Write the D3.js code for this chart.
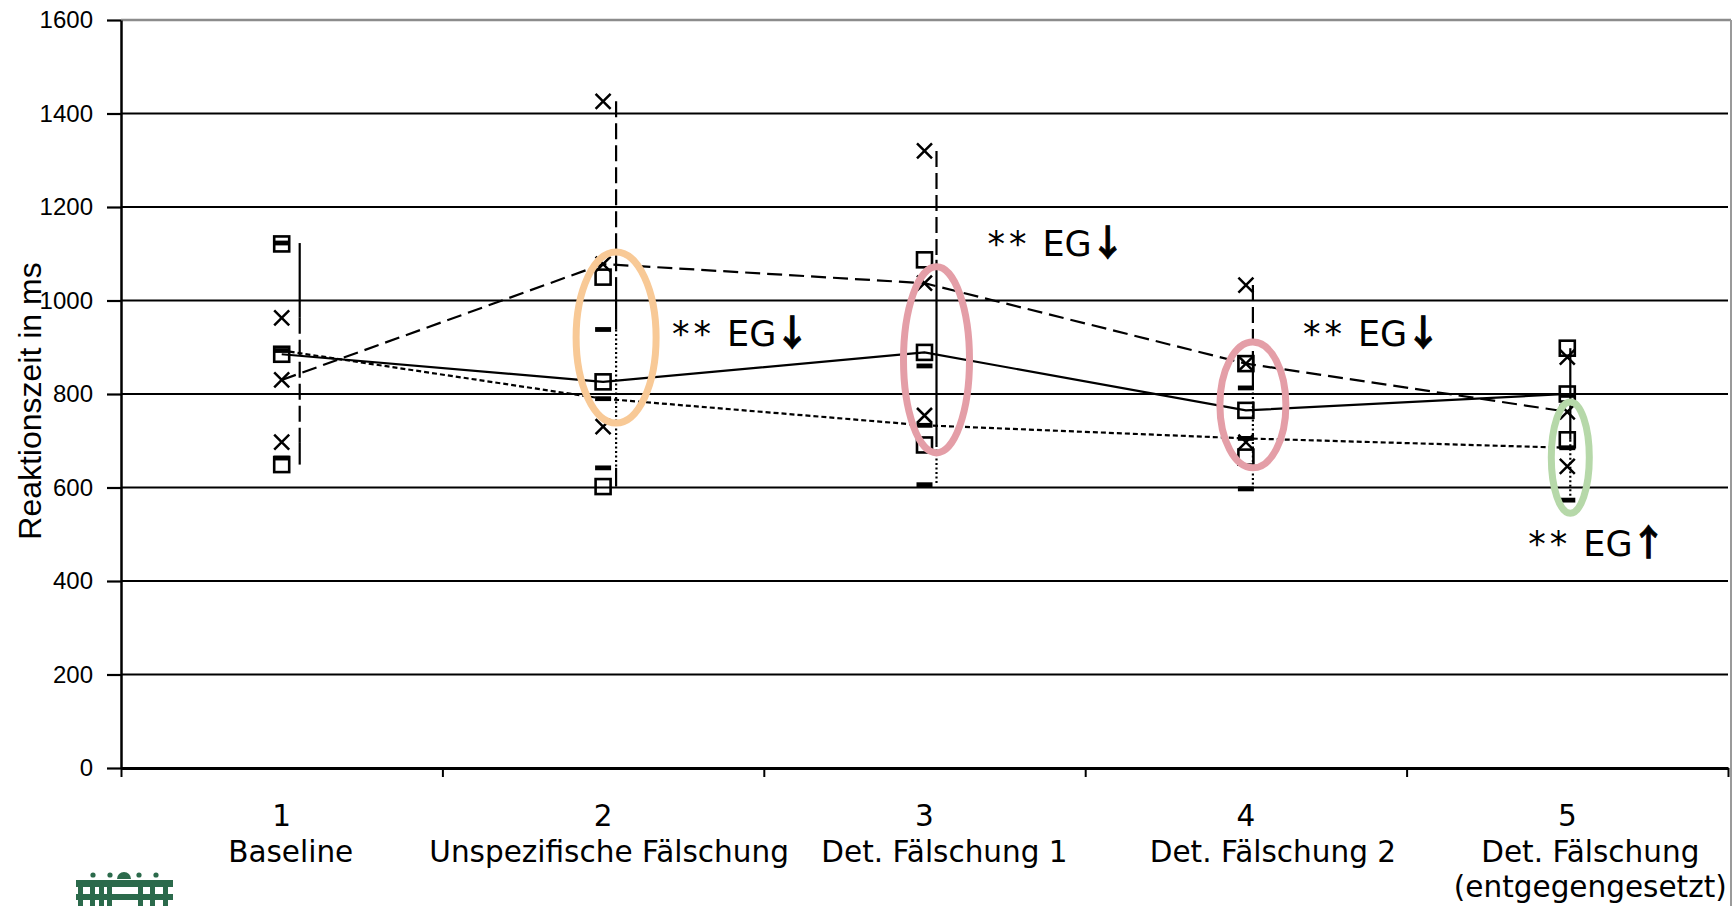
<!DOCTYPE html>
<html><head><meta charset="utf-8">
<script src="https://cdn.jsdelivr.net/npm/d3@7"></script>
<style>body{margin:0;background:#fff}svg{display:block;background:#fff}</style>
</head><body><svg id="c" width="1736" height="906"></svg>
<script>
// ---------- data ----------
const categories = ["Baseline", "Unspezifische Fälschung", "Det. Fälschung 1", "Det. Fälschung 2", "Det. Fälschung|(entgegengesetzt)"];
const categoryNumbers = ["1", "2", "3", "4", "5"];
const yTickValues = [0, 200, 400, 600, 800, 1000, 1200, 1400, 1600];

// solid line, square markers
const solidMean = [885, 826, 889, 765, 800];
const solidSD   = [236, 224, 198, 100, 98];
// dashed line, x markers
const dashedMean = [830, 1078, 1037, 865, 762];
const dashedSD   = [133, 348, 283, 168, 117];
// dotted line, bar markers
const dottedMean = [893, 790, 733, 705, 685];
const dottedSD   = [230, 148, 127, 108, 112];

// which error bar lies on top at each category (top first)
const whiskerStacking = [
  ["dashed", "solid", "dotted"],
  ["dotted", "solid", "dashed"],
  ["solid", "dashed", "dotted"],
  ["dotted", "solid", "dashed"],
  ["solid", "dotted", "dashed"]
];

// highlight ellipses (category index, value range, colour)
const ellipseCat   = [1, 2, 3, 4];
const ellipseLow   = [738, 674, 642, 545];
const ellipseHigh  = [1104, 1072, 911, 783];
const ellipseColor = ["#f8c996", "#e49ea7", "#e49ea7", "#b6d8a9"];

// annotations
const annotationText  = ["EG", "EG", "EG", "EG"];
const annotationArrow = ["\u2193", "\u2193", "\u2193", "\u2191"];
const annotationCat   = [1, 2, 3, 4];
const annotationValue = [903, 1095, 903, 453];

// ---------- layout ----------
const W = 1736, H = 906;
const plot = {left: 121, right: 1728, top: 20, bottom: 768};
const whiskerShift = [18, 13, 12, 7, 3];
const labelShift = [9, 6, 20, 27, 23];
const ellipseRx = [40, 33, 33, 19];
const annotationDx = [69, 63, 57, -39];

const svg = d3.select("#c");
const x = d3.scaleBand().domain(d3.range(categories.length)).range([plot.left, plot.right]);
const xEdge = d3.scaleLinear().domain([0, categories.length]).range([plot.left, plot.right]);
const y = d3.scaleLinear().domain([0, 1600]).range([plot.bottom, plot.top]);
const cx = i => x(i) + x.bandwidth() / 2;

// gridlines
svg.append("g").selectAll("line")
  .data(yTickValues.filter(v => v > 0))
  .join("line")
  .attr("x1", plot.left).attr("x2", d => d === 1600 ? 1731 : plot.right)
  .attr("y1", d => y(d)).attr("y2", d => y(d))
  .attr("stroke", d => d === 1600 ? "#8c8c8c" : "#000")
  .attr("stroke-width", d => d === 1600 ? 2.5 : 2.2);

// right border
svg.append("line").attr("x1", 1731).attr("x2", 1731).attr("y1", y(1600)).attr("y2", H)
  .attr("stroke", "#9a9a9a").attr("stroke-width", 2);

// y axis
const yAxis = svg.append("g").attr("transform", `translate(${plot.left},0)`)
  .call(d3.axisLeft(y).tickValues(yTickValues).tickSize(14).tickSizeOuter(0).tickPadding(14).tickFormat(d3.format("d")));
yAxis.select(".domain").attr("stroke", "#000").attr("stroke-width", 2.5);
yAxis.selectAll(".tick line").attr("stroke", "#000").attr("stroke-width", 2.2);
yAxis.selectAll(".tick text").attr("font-family", "'Liberation Sans', Arial, sans-serif").attr("font-size", 24).attr("fill", "#000");

// x axis
const xAxis = svg.append("g").attr("transform", `translate(0,${plot.bottom})`)
  .call(d3.axisBottom(xEdge).tickValues(d3.range(categories.length + 1)).tickSize(9).tickSizeOuter(0).tickFormat(""));
xAxis.select(".domain").attr("stroke", "#000").attr("stroke-width", 3);
xAxis.selectAll(".tick line").attr("stroke", "#000").attr("stroke-width", 2);

// y title
svg.append("text").attr("transform", `translate(41,${(258 + 544) / 2}) rotate(-90)`)
  .attr("text-anchor", "middle").attr("font-family", "'Liberation Sans', Arial, sans-serif")
  .attr("font-size", 32).attr("fill", "#000").text("Reaktionszeit in ms");

// category labels
const catFont = "'DejaVu Sans', Verdana, sans-serif";
const lab = svg.append("g").attr("font-family", catFont).attr("font-size", 29.5).attr("fill", "#000").attr("text-anchor", "middle");
lab.selectAll("text.num").data(categoryNumbers).join("text").attr("class", "num")
  .attr("x", (d, i) => cx(i)).attr("y", 826).text(d => d);
categories.forEach((c, i) => {
  c.split("|").forEach((line, k) => {
    lab.append("text").attr("x", cx(i) + labelShift[i]).attr("y", 862 + k * 35).text(line);
  });
});

// series definitions
const seriesList = [
  {key: "solid",  mean: solidMean,  sd: solidSD,  marker: "square", dash: null,   whiskerDash: null},
  {key: "dashed", mean: dashedMean, sd: dashedSD, marker: "cross",  dash: "15,7", whiskerDash: "16,6"},
  {key: "dotted", mean: dottedMean, sd: dottedSD, marker: "bar",    dash: "5,3",  whiskerDash: "2,2.5"}
];
const byKey = Object.fromEntries(seriesList.map(s => [s.key, s]));

// whiskers (upper series hides lower ones)
function subtract(iv, covered) {
  let pieces = [iv];
  covered.forEach(c => {
    pieces = pieces.flatMap(p => {
      if (c[1] <= p[0] || c[0] >= p[1]) return [p];
      const out = [];
      if (c[0] > p[0]) out.push([p[0], c[0]]);
      if (c[1] < p[1]) out.push([c[1], p[1]]);
      return out;
    });
  });
  return pieces;
}
const wg = svg.append("g");
whiskerStacking.forEach((order, i) => {
  const covered = [];
  order.forEach(key => {
    const s = byKey[key];
    const iv = [s.mean[i] - s.sd[i], s.mean[i] + s.sd[i]];
    subtract(iv, covered).forEach(p => {
      wg.append("line").attr("x1", cx(i) + whiskerShift[i]).attr("x2", cx(i) + whiskerShift[i])
        .attr("y1", y(p[1])).attr("y2", y(p[0]))
        .attr("stroke", "#000").attr("stroke-width", 2.2)
        .attr("stroke-dasharray", s.whiskerDash);
    });
    covered.push(iv);
  });
});

// series lines
const line = d3.line().x((d, i) => cx(i)).y(d => y(d));
seriesList.forEach(s => {
  svg.append("path").datum(s.mean).attr("d", line).attr("fill", "none")
    .attr("stroke", "#000").attr("stroke-width", 2.2).attr("stroke-dasharray", s.dash);
});

// markers
["square", "cross", "bar"].forEach(mk => {
  const s = seriesList.find(t => t.marker === mk);
  const pts = [];
  s.mean.forEach((m, i) => { [m - s.sd[i], m, m + s.sd[i]].forEach(v => pts.push({i, v})); });
  const g = svg.append("g");
  if (mk === "square") {
    g.selectAll("rect").data(pts).join("rect")
      .attr("x", d => cx(d.i) - 7.5).attr("y", d => y(d.v) - 7.5).attr("width", 15).attr("height", 15)
      .attr("fill", "none").attr("stroke", "#000").attr("stroke-width", 2.6);
  } else if (mk === "cross") {
    g.selectAll("path").data(pts).join("path")
      .attr("d", d => { const a = cx(d.i), b = y(d.v), r = 7.5; return `M${a - r},${b - r}L${a + r},${b + r}M${a - r},${b + r}L${a + r},${b - r}`; })
      .attr("stroke", "#000").attr("stroke-width", 2.5).attr("fill", "none");
  } else {
    g.selectAll("rect").data(pts).join("rect")
      .attr("x", d => cx(d.i) - 8).attr("y", d => y(d.v) - 2.4).attr("width", 16).attr("height", 4.8)
      .attr("fill", "#000");
  }
});

// ellipses
ellipseCat.forEach((c, k) => {
  svg.append("ellipse")
    .attr("cx", cx(c) + whiskerShift[c])
    .attr("cy", (y(ellipseLow[k]) + y(ellipseHigh[k])) / 2)
    .attr("rx", ellipseRx[k])
    .attr("ry", (y(ellipseLow[k]) - y(ellipseHigh[k])) / 2)
    .attr("fill", "none").attr("stroke", ellipseColor[k]).attr("stroke-width", 7);
});

// annotations
annotationText.forEach((t, k) => {
  const tx = svg.append("text").attr("x", cx(annotationCat[k]) + annotationDx[k]).attr("y", y(annotationValue[k]))
    .attr("font-family", catFont).attr("font-size", 35).attr("fill", "#000");
  tx.append("tspan").attr("letter-spacing", 4).text("**");
  tx.append("tspan").attr("dx", 12).text(t);
  tx.append("tspan").attr("font-family", "'Noto Sans CJK JP', 'DejaVu Sans', sans-serif")
    .attr("font-size", 36).attr("font-weight", 700).attr("stroke", "#000").attr("stroke-width", 0.8)
    .attr("dx", -2).text(annotationArrow[k]);
});

// logo
const logo = svg.append("g").attr("fill", "#2b6a4b");
[[93, 875], [110, 875], [139, 875], [156, 875]].forEach(p => logo.append("circle").attr("cx", p[0]).attr("cy", p[1]).attr("r", 2.6));
logo.append("path").attr("d", "M117,879 A7,7 0 0 1 131,879 Z");
logo.append("rect").attr("x", 76).attr("y", 880).attr("width", 97).attr("height", 7);
logo.append("rect").attr("x", 76).attr("y", 894).attr("width", 97).attr("height", 6);
[78, 90, 99, 107, 138, 150, 163].forEach(px => logo.append("rect").attr("x", px).attr("y", 880).attr("width", 5).attr("height", 26));
</script></body></html>
